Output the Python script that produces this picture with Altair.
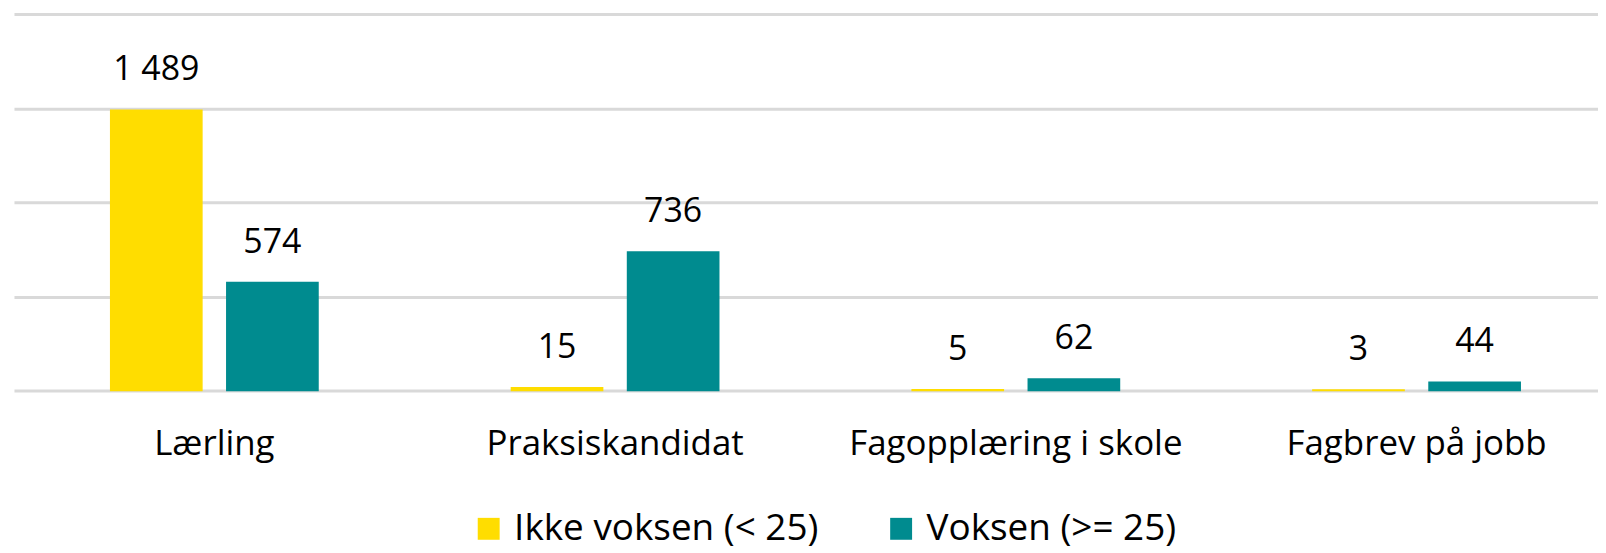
import altair as alt
import pandas as pd

categories = ["Lærling", "Praksiskandidat", "Fagopplæring i skole", "Fagbrev på jobb"]
series = ["Ikke voksen (< 25)", "Voksen (>= 25)"]
ikke_voksen = [1489, 15, 5, 3]
voksen = [574, 736, 62, 44]
colors = ["#FFDD00", "#008B8F"]
y_ticks = [0, 500, 1000, 1500, 2000]

rows = []
for c, a, b in zip(categories, ikke_voksen, voksen):
    rows.append({"kategori": c, "gruppe": series[0], "antall": a})
    rows.append({"kategori": c, "gruppe": series[1], "antall": b})
df = pd.DataFrame(rows)
df["etikett"] = df["antall"].map(lambda v: f"{v:,}".replace(",", " "))

FONT = "Open Sans"

x = alt.X("kategori:N", sort=categories,
          scale=alt.Scale(range=[2, 1611], paddingInner=0, paddingOuter=0),
          axis=alt.Axis(title=None, domain=False, ticks=False, tickSize=0,
                        labelAngle=0, labelFont=FONT, labelFontSize=35,
                        labelColor="#000000", labelBaseline="alphabetic",
                        labelPadding=64, labelLimit=1000, grid=False))
xo = alt.XOffset("gruppe:N", sort=series,
                 scale=alt.Scale(paddingInner=0.2146, paddingOuter=0.833))
y = alt.Y("antall:Q",
          scale=alt.Scale(domain=[0, 2000], nice=False),
          axis=alt.Axis(title=None, values=y_ticks, labels=False, ticks=False,
                        domain=False, grid=True, gridColor="#D9D9D9",
                        gridWidth=3))

bars = alt.Chart(df).mark_bar(strokeWidth=1.5).encode(
    x=x, xOffset=xo, y=y,
    stroke=alt.Stroke("gruppe:N", sort=series,
                      scale=alt.Scale(domain=series, range=colors), legend=None),
    color=alt.Color("gruppe:N", sort=series,
                    scale=alt.Scale(domain=series, range=colors),
                    legend=alt.Legend(title=None, orient="none",
                                      legendX=460, legendY=498,
                                      direction="horizontal",
                                      symbolType="square", symbolSize=484,
                                      symbolStrokeWidth=0,
                                      labelFont=FONT, labelFontSize=37,
                                      labelColor="#000000", labelOffset=7,
                                      labelLimit=1000,
                                      columnPadding=64)),
)

labels = alt.Chart(df).mark_text(font=FONT, fontSize=34, baseline="alphabetic",
                                 dy=-30, color="#000000").encode(
    x=x, xOffset=xo, y=y, text="etikett:N")

chart = (bars + labels).properties(
    width=1592, height=378,
    autosize=alt.AutoSizeParams(type="none"),
    padding={"left": 4, "top": 5, "right": 0, "bottom": 162},
).configure_view(stroke=None)

chart.save("out.html", embed_options={"renderer": "svg", "actions": False})
